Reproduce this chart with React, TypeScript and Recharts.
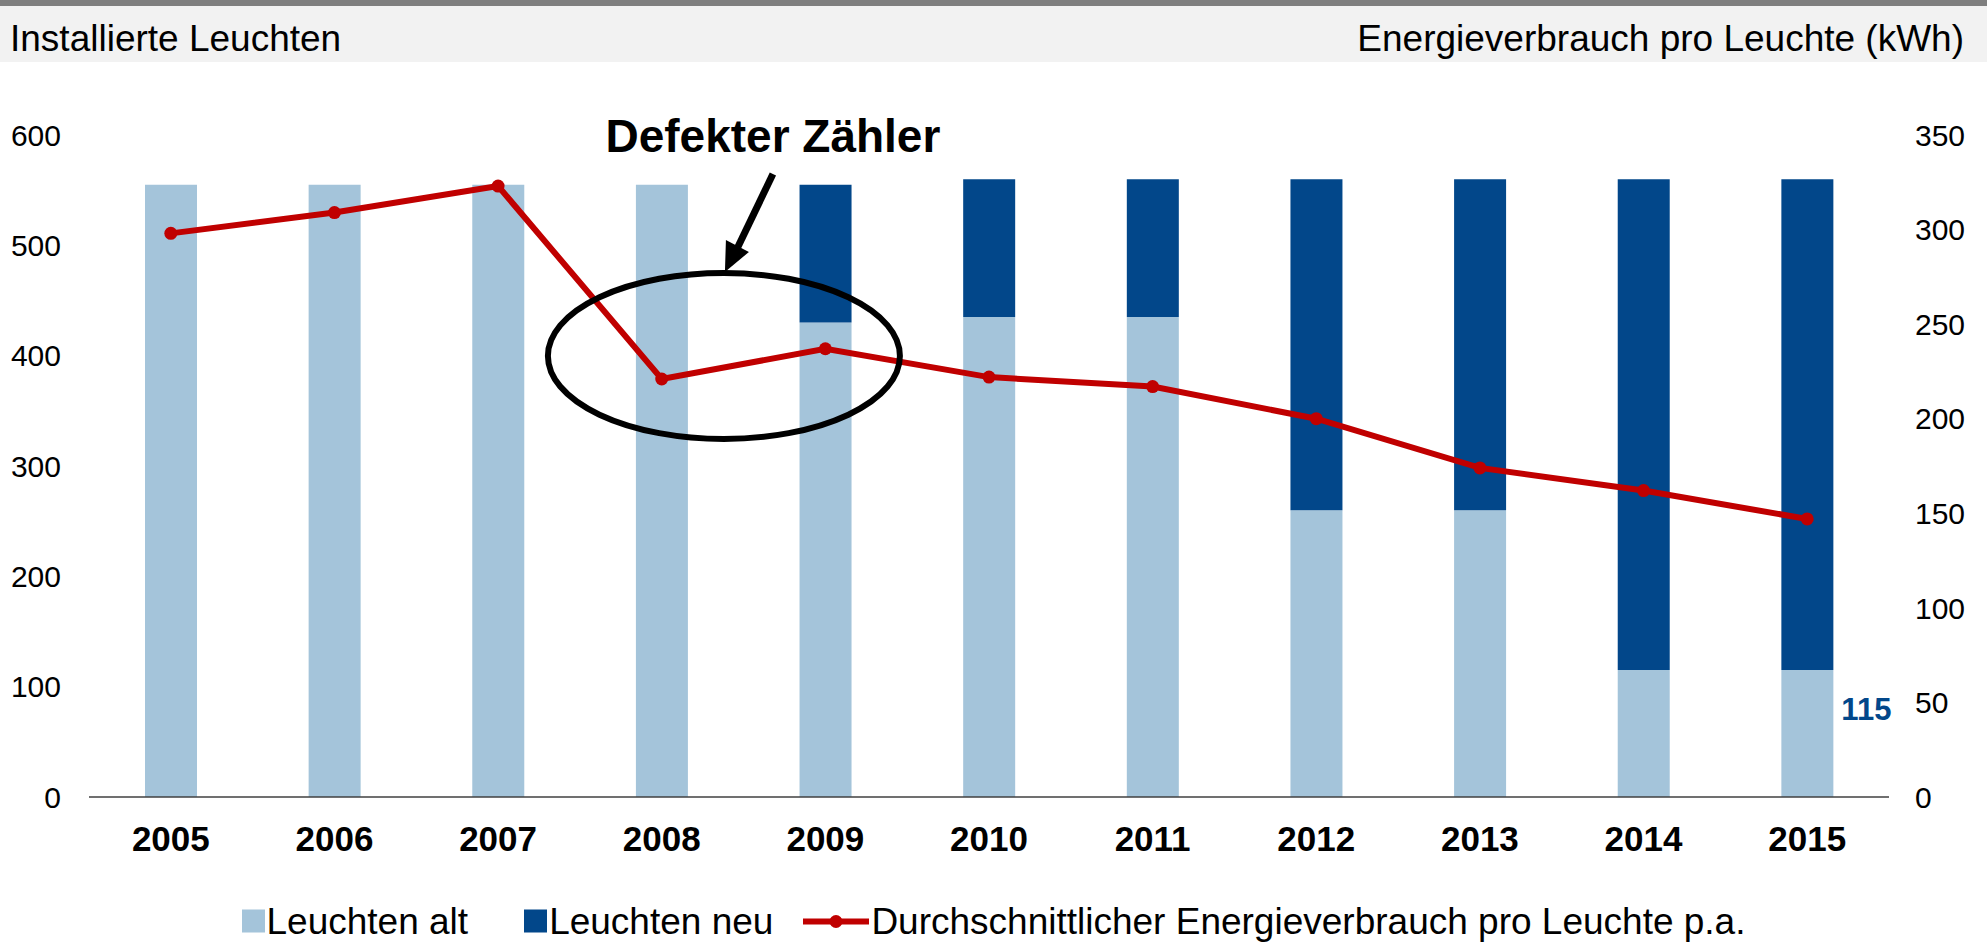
import { ComposedChart, Bar, Line, XAxis, YAxis, ReferenceDot, LabelList } from 'recharts';

// Installierte Leuchten (stacked) + Energieverbrauch pro Leuchte (line, right axis)
const years = ['2005', '2006', '2007', '2008', '2009', '2010', '2011', '2012', '2013', '2014', '2015'];
const leuchtenAlt = [555, 555, 555, 555, 430, 435, 435, 260, 260, 115, 115];
const leuchtenNeu = [0, 0, 0, 0, 125, 125, 125, 300, 300, 445, 445];
const energie = [298, 309, 323, 221, 237, 222, 217, 200, 174, 162, 147];
const leftTicks = [0, 100, 200, 300, 400, 500, 600];
const rightTicks = [0, 50, 100, 150, 200, 250, 300, 350];

const FONT = '"Liberation Sans", Arial, sans-serif';
const LIGHT = '#a4c4da';
const DARK = '#02478a';
const RED = '#c00000';

const W = 1987;
const LEFT_W = 89;
const RIGHT_W = 98;
const BAND = (W - LEFT_W - RIGHT_W) / years.length;

const data = years.map((y, i) => ({
    year: y,
    alt: leuchtenAlt[i],
    neu: leuchtenNeu[i],
    energie: energie[i],
}));

// "Defekter Zähler" callout, anchored on the 2008 point and shifted towards 2009
function Callout(props: any) {
    const { cx, cy } = props;
    if (cx == null || cy == null) return null;
    const x = cx + BAND * 0.38;
    const y = cy - 23;
    return (
        <g>
            <ellipse cx={x} cy={y} rx={176} ry={83} fill="none" stroke="#000" strokeWidth={6} />
            <line x1={x + 49} y1={y - 182} x2={x + 13} y2={y - 107} stroke="#000" strokeWidth={7} />
            <polygon points={`${x + 1},${y - 84} ${x + 25},${y - 104} ${x + 2},${y - 116}`} fill="#000" />
            <text x={x + 49} y={y - 220} textAnchor="middle" dominantBaseline="central"
                fontFamily={FONT} fontWeight="bold" fontSize={46} fill="#000">
                Defekter Zähler
            </text>
        </g>
    );
}

function LastLabel(props: any) {
    const { x, y, width, value, index } = props;
    if (index !== years.length - 1) return null;
    return (
        <text x={x + width + 8} y={y + 39} dominantBaseline="central" fontFamily={FONT}
            fontWeight="bold" fontSize={31} fill={DARK}>
            {value}
        </text>
    );
}

const legendText: React.CSSProperties = { fontSize: 37, color: '#000', lineHeight: 1 };

export default function App() {
    return (
        <div style={{ position: 'absolute', left: 0, top: 0, width: W, height: 942, background: '#fff', fontFamily: FONT, overflow: 'hidden' }}>
            <div style={{ position: 'absolute', left: 0, top: 0, width: W, height: 6, background: '#7f7f7f' }} />
            <div style={{ position: 'absolute', left: 0, top: 6, width: W, height: 56, background: '#f2f2f2' }} />
            <div style={{ position: 'absolute', left: 10, top: 38, transform: 'translateY(-50%)', fontSize: 37, lineHeight: 1, color: '#000' }}>
                Installierte Leuchten
            </div>
            <div style={{ position: 'absolute', right: 23, top: 38, transform: 'translateY(-50%)', fontSize: 37, lineHeight: 1, color: '#000' }}>
                Energieverbrauch pro Leuchte (kWh)
            </div>

            <div style={{ position: 'absolute', left: 0, top: 0 }}>
                <ComposedChart width={W} height={872} data={data} margin={{ top: 135, right: 0, bottom: 0, left: 0 }}>
                    <XAxis
                        dataKey="year"
                        height={75}
                        tickLine={false}
                        axisLine={{ stroke: '#404040', strokeWidth: 1.5 }}
                        tickMargin={23}
                        tick={{ fontSize: 35, fontWeight: 'bold', fill: '#000', fontFamily: FONT }}
                    />
                    <YAxis
                        yAxisId="left"
                        width={LEFT_W}
                        domain={[0, 600]}
                        ticks={leftTicks}
                        axisLine={false}
                        tickLine={false}
                        tickMargin={22}
                        tick={{ fontSize: 30, fill: '#000', fontFamily: FONT }}
                    />
                    <YAxis
                        yAxisId="right"
                        orientation="right"
                        width={RIGHT_W}
                        domain={[0, 350]}
                        ticks={rightTicks}
                        axisLine={false}
                        tickLine={false}
                        tickMargin={20}
                        tick={{ fontSize: 30, fill: '#000', fontFamily: FONT, textAnchor: 'start' }}
                    />
                    <Bar yAxisId="left" dataKey="alt" stackId="a" fill={LIGHT} barSize={52} isAnimationActive={false}>
                        <LabelList dataKey="alt" content={LastLabel} />
                    </Bar>
                    <Bar yAxisId="left" dataKey="neu" stackId="a" fill={DARK} barSize={52} isAnimationActive={false} />
                    <Line
                        yAxisId="right"
                        dataKey="energie"
                        stroke={RED}
                        strokeWidth={6}
                        dot={{ r: 6.5, fill: RED, stroke: 'none' }}
                        activeDot={false}
                        isAnimationActive={false}
                    />
                    <ReferenceDot yAxisId="right" x="2008" y={energie[3]} shape={(p: any) => <Callout {...p} />} ifOverflow="visible" />
                </ComposedChart>
            </div>

            <div style={{ position: 'absolute', left: 0, top: 921, width: W, transform: 'translateY(-50%)', display: 'flex', justifyContent: 'center', alignItems: 'center' }}>
                <div style={{ width: 23, height: 23, background: LIGHT, marginRight: 2 }} />
                <span style={legendText}>Leuchten alt</span>
                <div style={{ width: 23, height: 23, background: DARK, marginLeft: 56, marginRight: 2 }} />
                <span style={legendText}>Leuchten neu</span>
                <svg width={66} height={16} style={{ marginLeft: 30, marginRight: 2 }}>
                    <line x1={0} y1={8} x2={66} y2={8} stroke={RED} strokeWidth={6} />
                    <circle cx={33} cy={8} r={6.5} fill={RED} />
                </svg>
                <span style={legendText}>Durchschnittlicher Energieverbrauch pro Leuchte p.a.</span>
            </div>
        </div>
    );
}
